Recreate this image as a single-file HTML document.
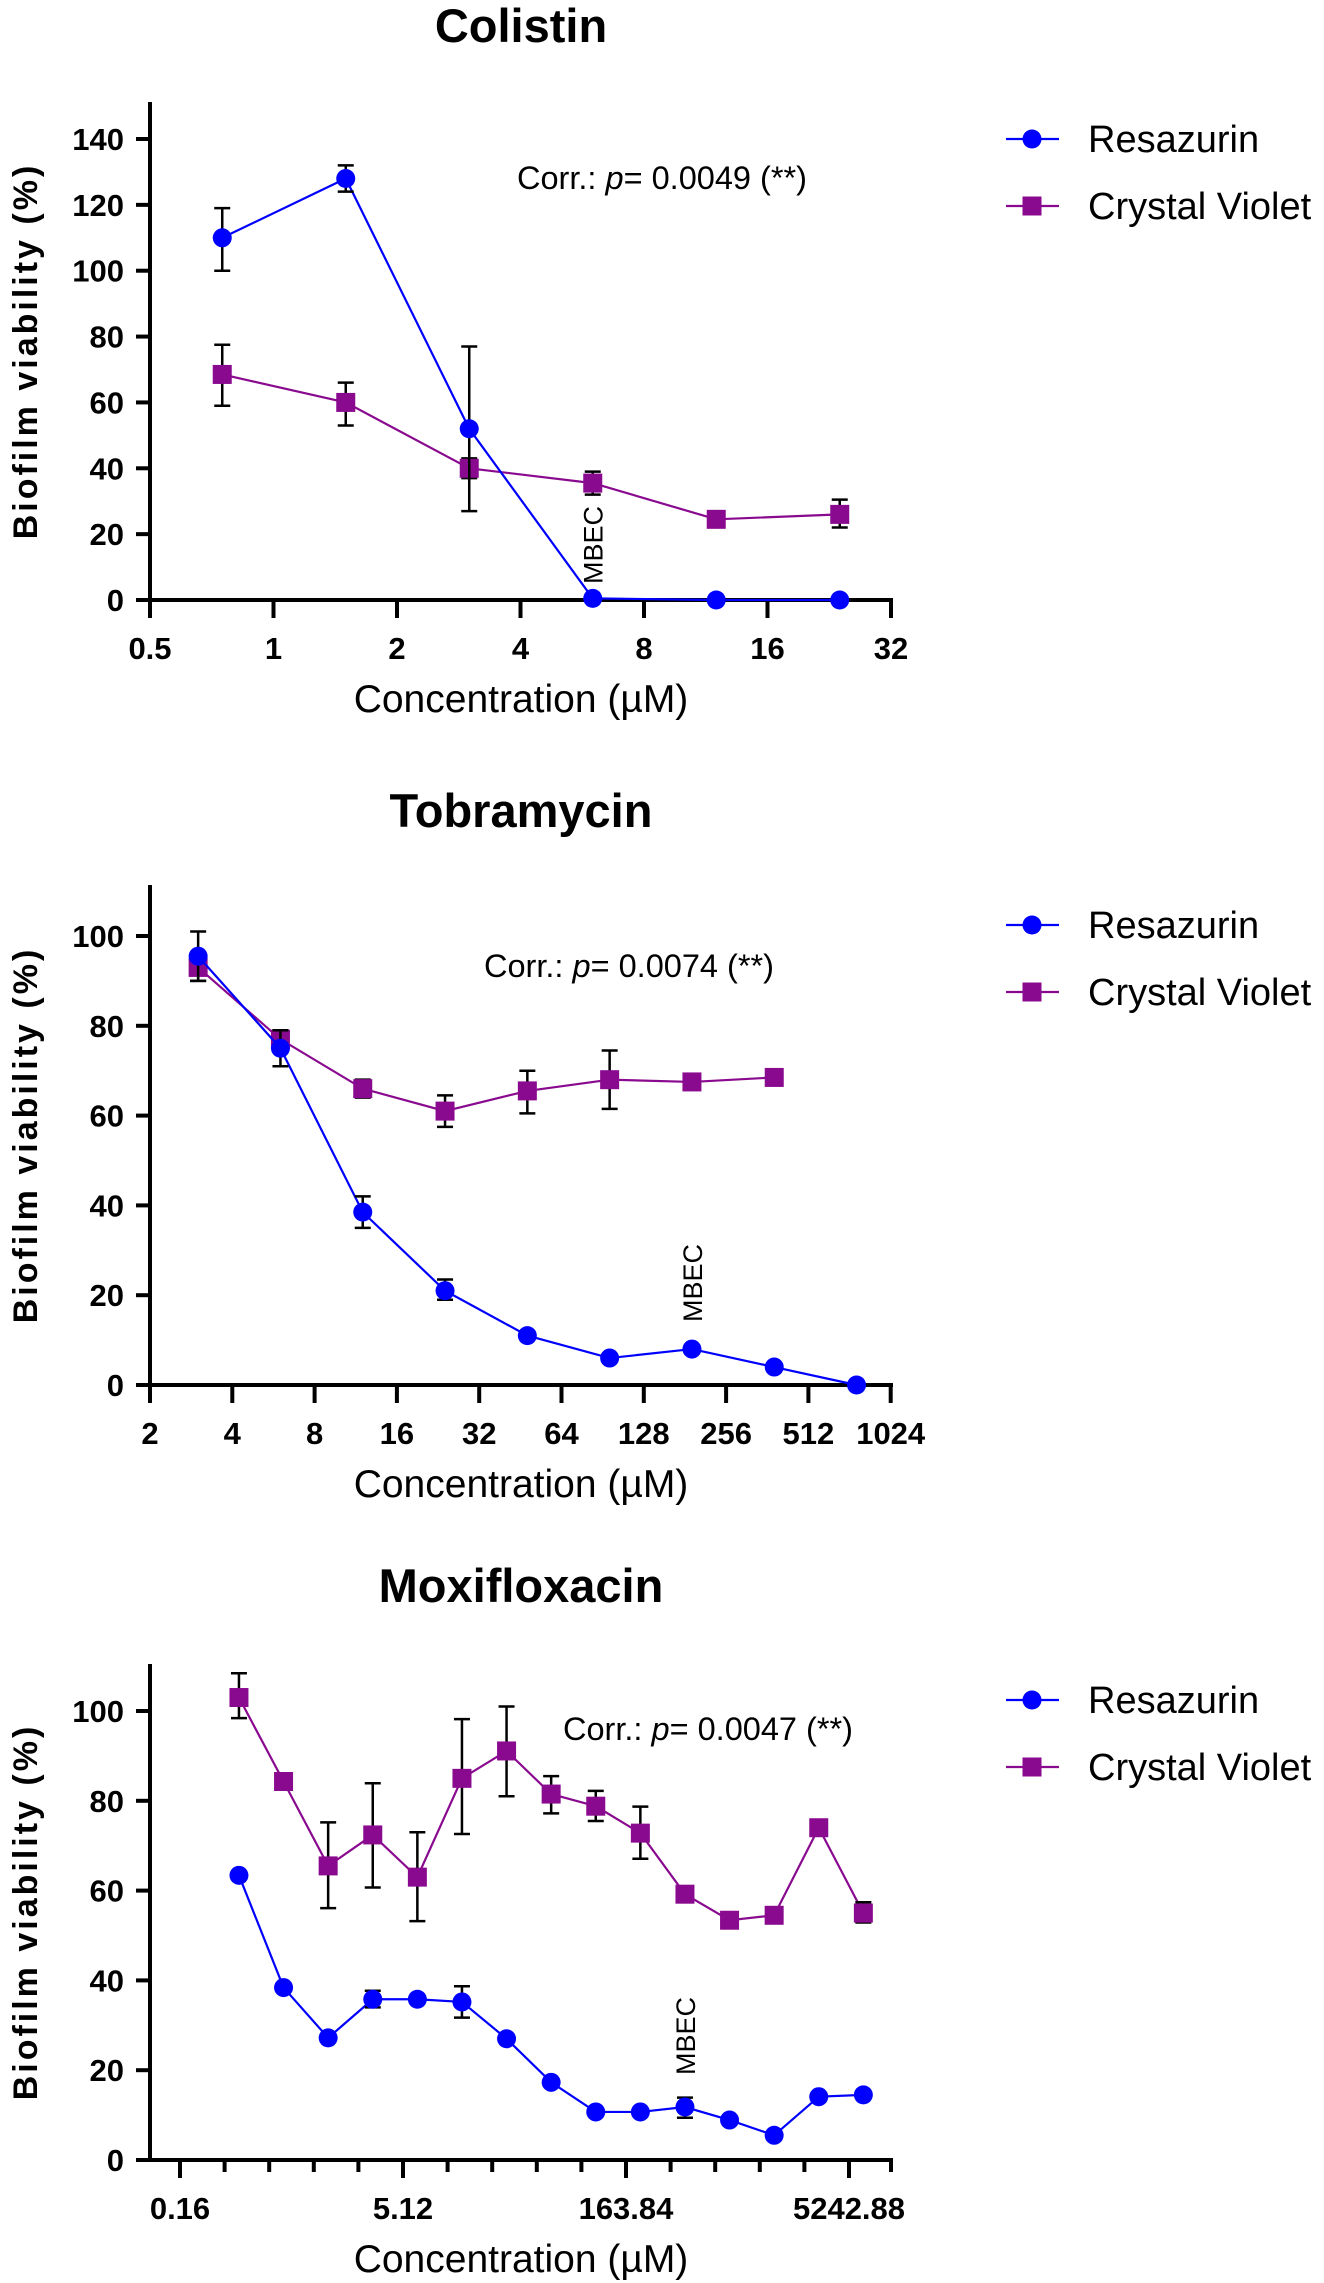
<!DOCTYPE html>
<html><head><meta charset="utf-8">
<style>
html,body{margin:0;padding:0;background:#fff;}
svg{display:block;font-family:"Liberation Sans",Arial,sans-serif;}
</style></head>
<body>
<svg id="fig" width="1324" height="2283" viewBox="0 0 1324 2283" xmlns="http://www.w3.org/2000/svg"></svg>
<script>
// ---- Colistin data ----
const colConc = [0.75, 1.5, 3, 6, 12, 24];
const colRes = [110, 128, 52, 0.5, 0, 0];
const colResLo = [100, 124, 27, 0.5, 0, 0];
const colResHi = [119, 132, 77, 0.5, 0, 0];
const colCV = [68.5, 60, 40, 35.5, 24.5, 26];
const colCVLo = [59, 53, 37, 32, 24.5, 22];
const colCVHi = [77.5, 66, 43, 39, 24.5, 30.5];
const colXTicks = ["0.5", "1", "2", "4", "8", "16", "32"];
const colYTicks = [0, 20, 40, 60, 80, 100, 120, 140];

// ---- Tobramycin data ----
const tobConcRes = [3, 6, 12, 24, 48, 96, 192, 384, 768];
const tobRes = [95.5, 75, 38.5, 21, 11, 6, 8, 4, 0];
const tobResLo = [90, 71, 35, 19, 11, 6, 8, 4, 0];
const tobResHi = [101, 79, 42, 23.5, 11, 6, 8, 4, 0];
const tobConcCV = [3, 6, 12, 24, 48, 96, 192, 384];
const tobCV = [93, 77, 66, 61, 65.5, 68, 67.5, 68.5];
const tobCVLo = [90, 75, 64, 57.5, 60.5, 61.5, 67.5, 68.5];
const tobCVHi = [95, 79, 68, 64.5, 70, 74.5, 67.5, 68.5];
const tobXTicks = ["2", "4", "8", "16", "32", "64", "128", "256", "512", "1024"];
const tobYTicks = [0, 20, 40, 60, 80, 100];

// ---- Moxifloxacin data ----
const moxConc = [0.4, 0.8, 1.6, 3.2, 6.4, 12.8, 25.6, 51.2, 102.4, 204.8, 409.6, 819.2, 1638.4, 3276.8, 6553.6];
const moxRes = [63.4, 38.4, 27.2, 35.8, 35.8, 35.2, 27, 17.3, 10.7, 10.7, 11.8, 8.9, 5.5, 14.1, 14.5];
const moxResLo = [63.4, 38.4, 27.2, 34, 35.8, 31.7, 27, 17.3, 10.7, 10.7, 9.4, 8.9, 5.5, 14.1, 14.5];
const moxResHi = [63.4, 38.4, 27.2, 37.7, 35.8, 38.7, 27, 17.3, 10.7, 10.7, 13.9, 8.9, 5.5, 14.1, 14.5];
const moxCV = [103, 84.3, 65.5, 72.4, 63, 85, 91.1, 81.5, 78.8, 72.8, 59.2, 53.4, 54.5, 74, 55];
const moxCVLo = [98.4, 84.3, 56.1, 60.7, 53.2, 72.6, 81, 77.2, 75.5, 67.1, 59.2, 53.4, 54.5, 74, 52.9];
const moxCVHi = [108.4, 84.3, 75.2, 83.9, 73, 98.2, 101, 85.5, 82.2, 78.7, 59.2, 53.4, 54.5, 74, 57.4];
const moxXTicks = ["0.16", "5.12", "163.84", "5242.88"];
const moxYTicks = [0, 20, 40, 60, 80, 100];

const NS = "http://www.w3.org/2000/svg";
const svg = document.getElementById("fig");
const BLUE = "#0000ff", PURP = "#8a0a8f";
function mk(tag, attrs, parent) {
  const e = document.createElementNS(NS, tag);
  for (const k in attrs) e.setAttribute(k, attrs[k]);
  (parent || svg).appendChild(e);
  return e;
}
function txt(s, attrs, parent) { const t = mk("text", attrs, parent); t.textContent = s; return t; }

function panel(p) {
  const g = mk("g", {});
  
  
  const xS = c => p.x0 + Math.log2(c / p.cMin) * p.perDoub;
  const yS = v => p.y0 - v * p.perUnit;
  const t = txt(p.title, {x: 521, y: p.titleY, "text-anchor": "middle", "font-size": 47, "font-weight": "bold"}, g);
  
  
  const ya = mk("line", {x1: 150, y1: p.top, x2: 150, y2: p.y0 + 1.5, stroke: "#000", "stroke-width": 4}, g);
  
  
  const xa = mk("line", {x1: 148, y1: p.y0, x2: 893, y2: p.y0, stroke: "#000", "stroke-width": 4}, g);
  
  
  p.yTicks.forEach(v => {
    mk("line", {x1: 136, y1: yS(v), x2: 150, y2: yS(v), stroke: "#000", "stroke-width": 4}, g);
    const l = txt(String(v), {x: 124, y: yS(v) + 11, "text-anchor": "end", "font-size": 31, "font-weight": "bold"}, g);
    
    
  });
  for (let k = 0; k <= p.nDoub; k++) {
    const x = p.x0 + k * p.perDoub;
    const major = (k % p.labelEvery === 0);
    mk("line", {x1: x, y1: p.y0, x2: x, y2: p.y0 + (major ? 18 : 12), stroke: "#000", "stroke-width": 4}, g);
    if (major) {
      const l = txt(p.xTicks[k / p.labelEvery], {x: x, y: p.y0 + 59, "text-anchor": "middle", "font-size": 31, "font-weight": "bold"}, g);
      
      
    }
  }
  if (p.tailTick) mk("line", {x1: 891, y1: p.y0, x2: 891, y2: p.y0 + 12, stroke: "#000", "stroke-width": 4}, g);
  const xt = txt("Concentration (\u00b5M)", {x: 521, y: p.y0 + 112, "text-anchor": "middle", "font-size": 39}, g);
  
  
  const yc = (p.top + p.y0) / 2;
  const yt = txt("Biofilm viability (%)", {x: 0, y: 0, transform: `translate(37 ${yc}) rotate(-90)`, "text-anchor": "middle", "font-size": 34, "font-weight": "bold", "letter-spacing": 3}, g);
  
  
  function series(conc, vals, lo, hi, color, shape, name) {
    const sg = mk("g", {}, g);
    
    
    const pts = conc.map((c, i) => xS(c) + "," + yS(vals[i])).join(" ");
    mk("polyline", {points: pts, fill: "none", stroke: color, "stroke-width": 2.2}, sg);
    conc.forEach((c, i) => {
      const x = xS(c);
      if (hi[i] !== lo[i]) {
        const eb = mk("path", {d: `M${x},${yS(lo[i])}V${yS(hi[i])}M${x-8},${yS(lo[i])}h16M${x-8},${yS(hi[i])}h16`, stroke: "#000", "stroke-width": 2.5, fill: "none"}, sg);
        
        
      }
      let m;
      if (shape === "circle") m = mk("circle", {cx: x, cy: yS(vals[i]), r: 9.5, fill: color}, sg);
      else m = mk("rect", {x: x - 9.5, y: yS(vals[i]) - 9.5, width: 19, height: 19, fill: color}, sg);
      
      
    });
  }
  series(p.cvC, p.cv, p.cvLo, p.cvHi, PURP, "square", "crystal-violet");
  series(p.resC, p.res, p.resLo, p.resHi, BLUE, "circle", "resazurin");
  const mx = xS(p.mbec);
  const mb = txt("MBEC", {x: 0, y: 0, transform: `translate(${mx + 10} ${p.mbecY}) rotate(-90)`, "text-anchor": "middle", "font-size": 27}, g);
  
  
  const ct = mk("text", {x: p.corrX, y: p.corrY, "font-size": 32.5}, g);
  ct.innerHTML = 'Corr.: <tspan font-style="italic">p</tspan>= ' + p.pval + ' (**)';
  
  
  [[BLUE, "circle", "Resazurin", p.legY], [PURP, "square", "Crystal Violet", p.legY + 67]].forEach(([c, s, lab, y]) => {
    const lg = mk("g", {}, g);
    
    
    mk("line", {x1: 1006, y1: y, x2: 1059, y2: y, stroke: c, "stroke-width": 2.2}, lg);
    if (s === "circle") mk("circle", {cx: 1032, cy: y, r: 9.5, fill: c}, lg);
    else mk("rect", {x: 1022.5, y: y - 9.5, width: 19, height: 19, fill: c}, lg);
    txt(lab, {x: 1088, y: y + 13, "font-size": 38}, lg);
  });
}

panel({id: "colistin", title: "Colistin", titleY: 42, top: 102, y0: 600, perUnit: 461/140,
  x0: 150, cMin: 0.5, perDoub: 123.5, nDoub: 6, labelEvery: 1, xTicks: colXTicks, yTicks: colYTicks,
  resC: colConc, res: colRes, resLo: colResLo, resHi: colResHi,
  cvC: colConc, cv: colCV, cvLo: colCVLo, cvHi: colCVHi,
  mbec: 6, mbecY: 545, corrX: 517, corrY: 189, pval: "0.0049", legY: 139});

panel({id: "tobramycin", title: "Tobramycin", titleY: 827, top: 885, y0: 1385, perUnit: 4.49,
  x0: 150, cMin: 2, perDoub: 82.3, nDoub: 9, labelEvery: 1, xTicks: tobXTicks, yTicks: tobYTicks,
  resC: tobConcRes, res: tobRes, resLo: tobResLo, resHi: tobResHi,
  cvC: tobConcCV, cv: tobCV, cvLo: tobCVLo, cvHi: tobCVHi,
  mbec: 192, mbecY: 1283, corrX: 484, corrY: 977, pval: "0.0074", legY: 925});

panel({id: "moxifloxacin", title: "Moxifloxacin", titleY: 1602, top: 1664, y0: 2160, perUnit: 4.49,
  x0: 180, cMin: 0.16, perDoub: 44.6, nDoub: 15, labelEvery: 5, xTicks: moxXTicks, yTicks: moxYTicks, tailTick: true,
  resC: moxConc, res: moxRes, resLo: moxResLo, resHi: moxResHi,
  cvC: moxConc, cv: moxCV, cvLo: moxCVLo, cvHi: moxCVHi,
  mbec: 409.6, mbecY: 2036, corrX: 563, corrY: 1740, pval: "0.0047", legY: 1700});
</script>
</body></html>
